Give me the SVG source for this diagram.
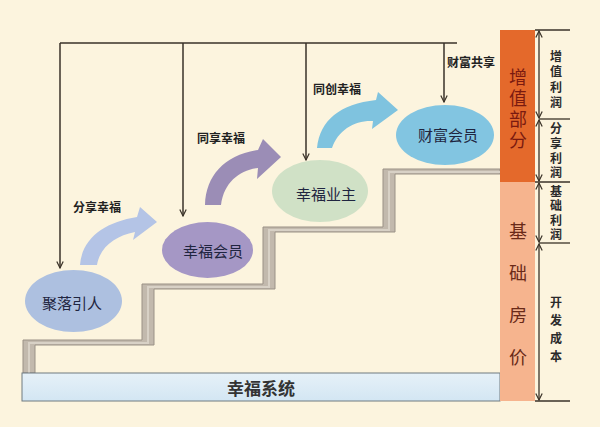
<svg xmlns="http://www.w3.org/2000/svg" width="600" height="427" viewBox="0 0 600 427">
<defs>
<style>
.conn{stroke:#3a3228;stroke-width:1.5;fill:none}
.dim{stroke:#3a3228;stroke-width:1.3;fill:none}
.lbl{font-family:"Noto Sans CJK SC","Noto Sans",sans-serif;font-size:12px;font-weight:bold;fill:#222}
.node{font-family:"Noto Sans CJK SC","Noto Sans",sans-serif;font-size:15px;fill:#1f2540;text-anchor:middle;dominant-baseline:central}
.vt{font-family:"Noto Sans CJK SC","Noto Sans",sans-serif;text-anchor:middle;writing-mode:vertical-rl}
.big{font-size:18px;fill:#7a1a10}
.big2{font-size:18px;fill:#6a2a18}
.sm{font-size:12px;font-weight:bold;fill:#2a2a2a}
</style>
<marker id="ah" viewBox="0 0 10 10" refX="9" refY="5" markerWidth="8" markerHeight="8" markerUnits="userSpaceOnUse" orient="auto-start-reverse">
<path d="M1,1 L9,5 L1,9" fill="none" stroke="#3a3228" stroke-width="1.5"/>
</marker>
<linearGradient id="barg" x1="0" y1="0" x2="0" y2="1">
<stop offset="0" stop-color="#e6f1f8"/>
<stop offset="1" stop-color="#d3e6f3"/>
</linearGradient>
</defs>
<rect width="600" height="427" fill="#fcf4de"/>

<g id="stairs">
<polygon points="23,373 23,340 142,340 142,284 263,284 263,227 383,227 383,169 500,169 500,174 395,174 395,232 275,232 275,289 154,289 154,345 35,345 35,373" fill="#c2b9ad" stroke="#9a9186" stroke-width="1"/>
<polyline points="29,373 29,343 148,343 148,287 269,287 269,230 389,230 389,172 500,172" fill="none" stroke="#d8d1c6" stroke-width="2"/>
</g>

<g id="base">
<rect x="22" y="373" width="478" height="28" fill="url(#barg)" stroke="#6f7a80" stroke-width="1"/>
<text x="261" y="387" style="font-family:'Noto Sans CJK SC','Noto Sans',sans-serif;text-anchor:middle;dominant-baseline:central;font-size:17px;fill:#333;font-weight:bold">幸福系统</text>
</g>

<g id="connectors">
<polyline class="conn" points="60,43 457,43"/>
<line class="conn" x1="60" y1="43" x2="60" y2="268" marker-end="url(#ah)"/>
<line class="conn" x1="183" y1="43" x2="183" y2="216" marker-end="url(#ah)"/>
<line class="conn" x1="306" y1="43" x2="306" y2="160" marker-end="url(#ah)"/>
<line class="conn" x1="444" y1="43" x2="444" y2="102" marker-end="url(#ah)"/>
<text class="lbl" x="73" y="212">分享幸福</text>
<text class="lbl" x="197" y="143">同享幸福</text>
<text class="lbl" x="313" y="94">同创幸福</text>
<text class="lbl" x="447" y="67">财富共享</text>
</g>

<g id="arrows">
<path d="M80,265 C82,238 105,222 137,217 L140,207 L157,222 L133,240 L135,232 C115,236 100,247 97,265 Z" fill="#b4c4e6"/>
<path d="M205,205 C206,175 225,155 258,150 L263,139 L281,157 L257,179 L258,168 C240,170 224,182 221,205 Z" fill="#9b8db6"/>
<path d="M317,148 C320,120 340,104 376,100 L378,92 L398,110 L372,129 L373,121 C355,120 338,130 332,148 Z" fill="#7fc3df"/>
</g>

<g id="n1">
<ellipse cx="73.5" cy="301" rx="48.5" ry="31" fill="#adc0e0"/>
<text class="node" x="72" y="302">聚落引人</text>
</g>
<g id="n2">
<ellipse cx="207.5" cy="250" rx="45.5" ry="28" fill="#a597c5"/>
<text class="node" x="213" y="250">幸福会员</text>
</g>
<g id="n3">
<ellipse cx="320" cy="191" rx="48" ry="31" fill="#d0e1c6"/>
<text class="node" x="326" y="193">幸福业主</text>
</g>
<g id="n4">
<ellipse cx="445" cy="135" rx="49" ry="30" fill="#82c5e1"/>
<text class="node" x="448" y="134">财富会员</text>
</g>

<g id="pricebar">
<rect x="500" y="30" width="35" height="152" fill="#e4692b"/>
<rect x="500" y="182" width="35" height="219" fill="#f6b48e"/>
<text class="vt big" x="518" y="110" letter-spacing="3">增值部分</text>
<text class="vt big2" x="518" y="306" letter-spacing="24">基础房价</text>
</g>

<g id="dimensions">
<line class="dim" x1="535" y1="30" x2="570" y2="30"/>
<line class="dim" x1="539" y1="119" x2="570" y2="119"/>
<line class="dim" x1="535" y1="182" x2="570" y2="182"/>
<line class="dim" x1="539" y1="243" x2="570" y2="243"/>
<line class="dim" x1="535" y1="401" x2="570" y2="401"/>
<line class="dim" x1="539" y1="31" x2="539" y2="118" marker-start="url(#ah)" marker-end="url(#ah)"/>
<line class="dim" x1="539" y1="120" x2="539" y2="181" marker-start="url(#ah)" marker-end="url(#ah)"/>
<line class="dim" x1="539" y1="183" x2="539" y2="242" marker-start="url(#ah)" marker-end="url(#ah)"/>
<line class="dim" x1="539" y1="244" x2="539" y2="400" marker-start="url(#ah)" marker-end="url(#ah)"/>
<text class="vt sm" x="556" y="81" letter-spacing="3.3">增值利润</text>
<text class="vt sm" x="556" y="152" letter-spacing="2.7">分享利润</text>
<text class="vt sm" x="556" y="214" letter-spacing="2.3">基础利润</text>
<text class="vt sm" x="556" y="332" letter-spacing="6">开发成本</text>
</g>
</svg>
